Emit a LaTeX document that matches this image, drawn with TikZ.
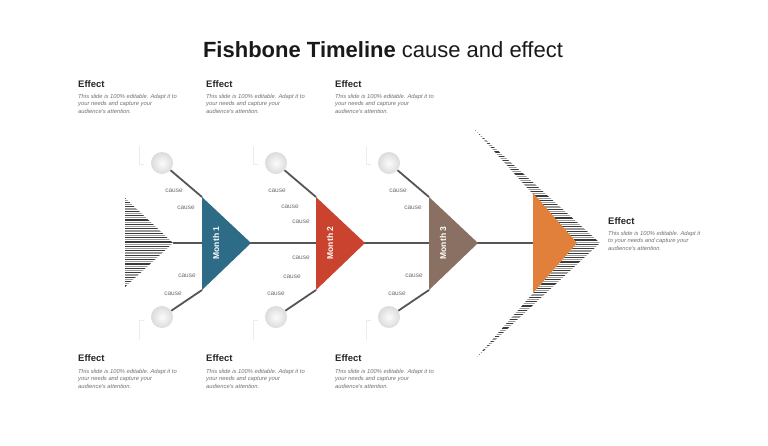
\documentclass[tikz,border=0pt]{standalone}
\usepackage{fontspec}
\setmainfont{Liberation Sans}
\usetikzlibrary{calc}
\definecolor{tealm}{HTML}{2D6B86}
\definecolor{redm}{HTML}{C9432E}
\definecolor{brownm}{HTML}{8A7062}
\definecolor{orangem}{HTML}{E0803A}
\definecolor{bone}{HTML}{555555}
\definecolor{txtgray}{HTML}{707070}
\definecolor{stripe}{HTML}{3A3A3A}
\definecolor{stripelight}{HTML}{9A9A9A}
\tikzset{
  titletext/.style={inner sep=0, font=\fontsize{22}{26}\selectfont, anchor=base, text=black!90},
  efftitle/.style={inner sep=0, anchor=west, font=\fontsize{9.5}{11}\selectfont\bfseries, text=black!85},
  effbody/.style={inner sep=0, anchor=north west, align=left, font=\fontsize{5.8}{7.5}\selectfont\itshape, text=txtgray},
  causetext/.style={inner sep=0, font=\fontsize{6.5}{7}\selectfont, text=txtgray},
  monthtext/.style={inner sep=0, rotate=90, font=\fontsize{8.5}{10}\selectfont\bfseries, text=white},
  bubble/.style={circle, minimum size=22pt, inner sep=0, inner color=gray!3, outer color=gray!28},
  boneline/.style={draw=bone, line width=1.8pt},
  cornermark/.style={draw=gray!15, line width=0.6pt},
  stripedark/.style={draw=stripe, line width=1.1pt},
  stripelite/.style={draw=stripelight, line width=1.1pt}
}
\begin{document}
\begin{tikzpicture}[x=1pt,y=-1pt]
\useasboundingbox[fill=white] (0,0) rectangle (768,445);

% title
\node[titletext] (title) at (383,57) {\textbf{Fishbone Timeline} cause and effect};

% left striped tail
\coordinate (lt1) at (125,198);
\coordinate (ltip) at (173,243);
\coordinate (lt2) at (125,287);
\begin{scope}
  \clip (lt1) -- (ltip) -- (lt2) -- cycle;
  \foreach \yy in {198,202.4,...,290} {\draw[stripedark] (120,\yy) -- (180,\yy);}
  \foreach \yy in {200.2,204.6,...,290} {\draw[stripelite] (120,\yy) -- (180,\yy);}
\end{scope}

% big striped chevron
\coordinate (ch1) at (475,130);
\coordinate (chtip) at (600,243);
\coordinate (ch2) at (477,357);
\coordinate (oh) at (577,243);
\begin{scope}
  \clip (ch1) -- (chtip) -- (ch2) -- (oh) -- cycle;
  \foreach \yy in {130,134.4,...,360} {\draw[stripedark] (470,\yy) -- (605,\yy);}
  \foreach \yy in {132.2,136.6,...,360} {\draw[stripelite] (470,\yy) -- (605,\yy);}
\end{scope}

% orange head
\coordinate (ot) at (533,193);
\coordinate (ob) at (533,293);
\coordinate (om) at (533,243);
\fill[orangem] (ot) -- (oh) -- (ob) -- cycle;

% spine
\draw[boneline] (ltip) -- (om);

% months
\foreach \n/\x/\c/\lab in {m1/202/tealm/Month 1, m2/316/redm/Month 2, m3/429/brownm/Month 3} {
  \coordinate (\n t) at (\x,197);
  \coordinate (\n b) at (\x,290);
  \coordinate (\n p) at (\x+49,243);
  \fill[\c] (\n t) -- (\n p) -- (\n b) -- cycle;
  \node[monthtext] (\n lab) at (\x+14,243) {\lab};
  \node[bubble] (\n c1) at (\x-40,163) {};
  \node[bubble] (\n c2) at (\x-40,317) {};
  \draw[boneline] (\n c1) -- (\n t);
  \draw[boneline] (\n c2) -- (\n b);
  \draw[cornermark] (\x-63,146) -- (\x-63,164) -- (\x-58,164);
  \draw[cornermark] (\x-58,320) -- (\x-63,320) -- (\x-63,340);
}

% cause labels
\foreach \i/\x/\y in {a/174/191, b/186/208, c/187/276, d/173/294,
                      e/277/191, f/290/207, g/301/222, h/301/258, i/292/277, j/276/294,
                      k/398/191, l/413/208, m/414/276, n/397/294} {
  \node[causetext] (cause\i) at (\x,\y) {cause};
}

% effect blocks
\foreach \n/\x/\y/\dy in {e1/78/84/10, e2/206/84/10, e3/335/84/10, e4/78/358/10.8, e5/206/358/10.8, e6/335/358/10.8} {
  \node[efftitle] (\n) at (\x,\y) {Effect};
  \node[effbody] (\n body) at (\x,\y+\dy) {This slide is 100\% editable. Adapt it to\\your needs and capture your\\audience’s attention.};
}
\node[efftitle] (e7) at (608,221) {Effect};
\node[effbody] (e7body) at (608,231) {This slide is 100\% editable. Adapt it\\to your needs and capture your\\audience’s attention.};
\end{tikzpicture}
\end{document}
